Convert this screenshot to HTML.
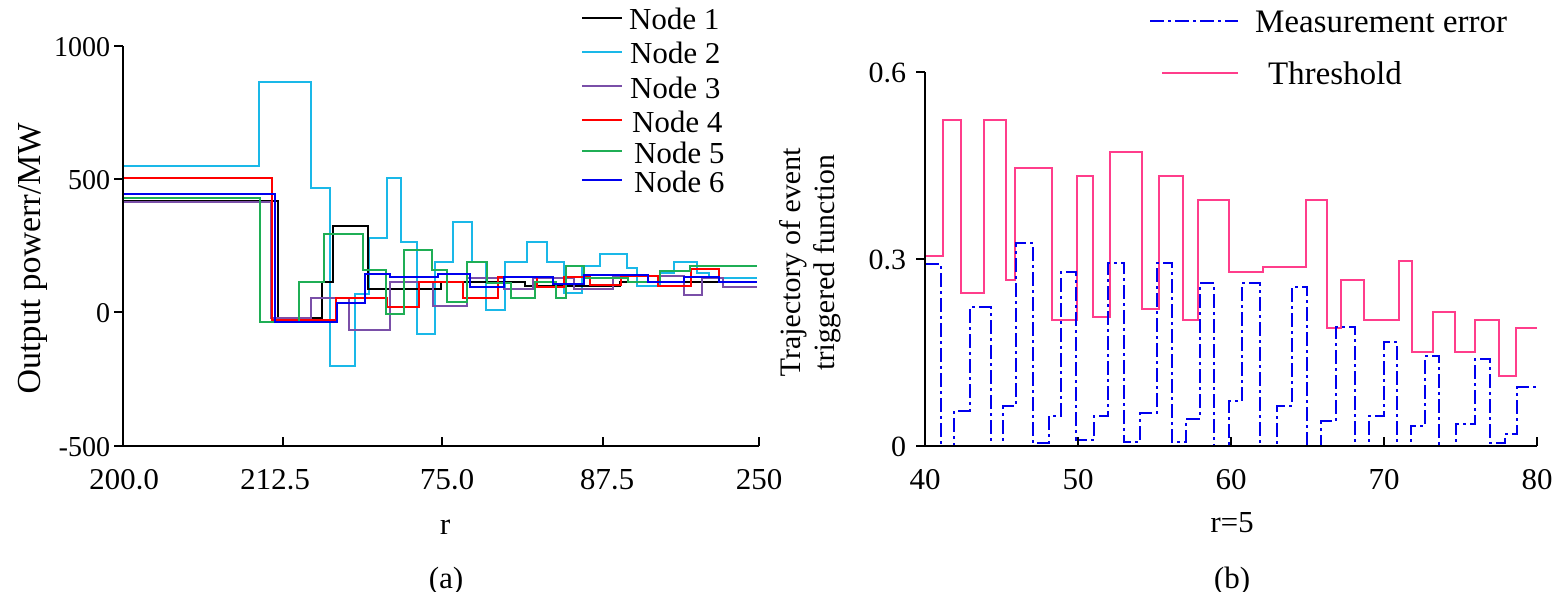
<!DOCTYPE html>
<html><head><meta charset="utf-8"><style>body{margin:0;background:#fff}svg{display:block}text{font-family:"Liberation Serif",serif;fill:#000}</style></head><body>
<svg width="1554" height="592" viewBox="0 0 1554 592" xmlns="http://www.w3.org/2000/svg">
<g fill="none" stroke-width="2">
<path stroke="#1ab8e8" d="M123,166H259V82H311V188H330V366H355V294H369V238H387V178H401V242H417V334H435V262H453V222H472V262H486V310H505V262H527V242H547V262H564V293H582V266H600V254H627V268H637V286H660V273H674V262H697V273H709V278H757"/>
<path stroke="#000" d="M123,201H278V318H322V282H333V226H368V289H441V282H525V286H620V282H757"/>
<path stroke="#7a4fa8" d="M123,202H271V318H311V298H349V330H390V282H433V306H467V278H504V289H533V278H574V289H613V276H684V295H702V278H723V287H757"/>
<path stroke="#ff0000" d="M123,178H272V320H336V298H387V307H419V282H463V298H498V277H537V287H564V277H590V285H621V276H658V286H691V269H719V282H757"/>
<path stroke="#1fae55" d="M123,198H260V322H299V282H324V234H363V270H386V314H404V250H432V270H447V302H467V262H487V283H511V298H535V282H556V298H566V266H584V278H628V282H660V271H690V266H757"/>
<path stroke="#0000ee" d="M123,194H275V322H337V303H365V274H390V277H438V274H470V287H504V277H553V284H584V275H648V282H684V277H719V282H757"/>
<path stroke="#ff3d8b" d="M925,256H943V120H961V293H984V120H1006V280H1015V168H1052V320H1077V176H1093V317H1110V152H1142V309H1159V176H1183V320H1198V200H1229V272H1263V267H1306V200H1327V328H1341V280H1364V320H1399V261H1412V352H1433V312H1455V352H1475V320H1499V376H1516V328H1537"/>
<path stroke="#0000ee" stroke-dasharray="14,4,3,4" d="M925,264H941V446H954V411H970V307H991V446H1003V406H1016V243H1033V443H1049V416H1061V272H1076V440H1094V416H1108V263H1124V442H1140V413H1157V263H1172V442H1186V419H1200V283H1214V446H1229V401H1242V283H1260V446H1277V406H1292V287H1307V446H1321V421H1336V327H1355V446H1369V416H1384V342H1397V446H1411V426H1425V356H1439V446H1456V424H1475V359H1490V443H1505V434H1517V387H1537"/>
</g>
<g stroke="#000" stroke-width="2" fill="none">
<path d="M123,46V446H759"/>
<path d="M114,46H123M114,179H123M114,312H123M114,446H123M283,446V437M442,446V437M603,446V437M759,446V437"/>
<path d="M925,72V446H1537"/>
<path d="M916,72H925M916,259H925M916,446H925M1078,446V437M1231,446V437M1384,446V437M1537,446V437"/>
</g>
<g font-size="28">
<text x="110" y="56" text-anchor="end">1000</text>
<text x="110" y="189" text-anchor="end">500</text>
<text x="110" y="322" text-anchor="end">0</text>
<text x="110" y="456" text-anchor="end">-500</text>
</g>
<g text-anchor="middle" font-size="31">
<text x="124" y="489">200.0</text><text x="275" y="489">212.5</text><text x="447" y="489">75.0</text><text x="607" y="489">87.5</text><text x="759" y="489">250</text>
<text x="445" y="534">r</text><text x="446" y="588">(a)</text>
<text x="925" y="489">40</text><text x="1078" y="489">50</text><text x="1231" y="489">60</text><text x="1384" y="489">70</text><text x="1537" y="489">80</text>
<text x="1232" y="532">r=5</text><text x="1232" y="588">(b)</text>
</g>
<g font-size="30">
<text x="906" y="82" text-anchor="end">0.6</text>
<text x="906" y="269" text-anchor="end">0.3</text>
<text x="906" y="456" text-anchor="end">0</text>
<text transform="translate(800,262) rotate(-90)" text-anchor="middle">Trajectory of event</text>
<text transform="translate(834,262) rotate(-90)" text-anchor="middle">triggered function</text>
</g>
<text font-size="34" transform="translate(40,258) rotate(-90)" text-anchor="middle">Output powerr/MW</text>
<g stroke-width="2">
<line x1="582" y1="18" x2="622" y2="18" stroke="#000"/>
<line x1="582" y1="52" x2="622" y2="52" stroke="#1ab8e8"/>
<line x1="582" y1="86" x2="622" y2="86" stroke="#7a4fa8"/>
<line x1="582" y1="120" x2="622" y2="120" stroke="#ff0000"/>
<line x1="582" y1="151" x2="622" y2="151" stroke="#1fae55"/>
<line x1="582" y1="180" x2="622" y2="180" stroke="#0000ee"/>
<line x1="1150" y1="21" x2="1238" y2="21" stroke="#0000ee" stroke-dasharray="14,4,3,4"/>
<line x1="1162" y1="73" x2="1238" y2="73" stroke="#ff3d8b"/>
</g>
<g font-size="31">
<text x="629" y="29">Node 1</text><text x="630" y="63">Node 2</text><text x="630" y="98">Node 3</text><text x="632" y="132">Node 4</text><text x="634" y="163">Node 5</text><text x="634" y="192">Node 6</text>
</g>
<g font-size="33">
<text x="1255" y="32">Measurement error</text>
<text x="1268" y="84">Threshold</text>
</g>
</svg>
</body></html>
